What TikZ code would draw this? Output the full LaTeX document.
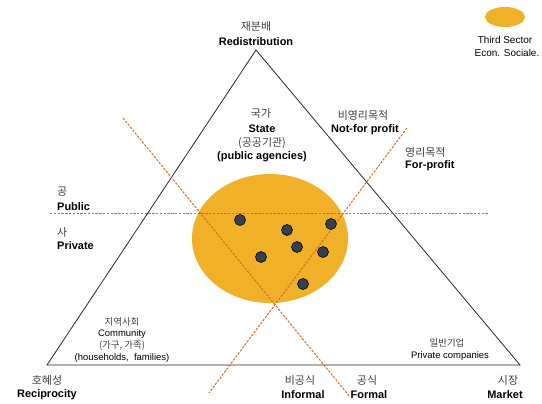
\documentclass[tikz,border=0pt]{standalone}
\usepackage{fontspec}
\setmainfont{Liberation Sans}
\newfontfamily\kr{Noto Sans CJK KR}
\usetikzlibrary{shapes, calc}
\definecolor{sectorfill}{RGB}{240,176,40}
\definecolor{cutline}{RGB}{215,105,30}
\definecolor{dotfill}{RGB}{52,66,72}
\tikzstyle{bold} = [font=\bfseries\fontsize{11}{13}\selectfont, inner sep=0pt]
\tikzstyle{plain} = [font=\fontsize{9.5}{11}\selectfont, inner sep=0pt]
\tikzstyle{krbig} = [font=\kr\fontsize{11}{13}\selectfont, text=black!75, inner sep=0pt]
\tikzstyle{krsmall} = [font=\kr\fontsize{9.5}{11}\selectfont, text=black!75, inner sep=0pt]
\tikzstyle{cut} = [cutline, line width=1pt, dash pattern=on 2.4pt off 1.4pt]
\tikzstyle{member} = [circle, draw=black, fill=dotfill, line width=0.6pt, minimum size=11bp, inner sep=0pt]

\begin{document}
\begin{tikzpicture}[x=1bp, y=-1bp]
    \useasboundingbox (0,0) rectangle (542,403);
    % triangle corners
    \coordinate (top) at (256,50);
    \coordinate (left) at (47,365);
    \coordinate (right) at (520,365);
    % ends of the dividing lines
    \coordinate (pubW) at (50,213.5);
    \coordinate (pubE) at (488,213.5);
    \coordinate (profN) at (123,118);
    \coordinate (profS) at (350,397);
    \coordinate (formN) at (407,128);
    \coordinate (formS) at (209,393);

    % third sector
    \node[ellipse, fill=sectorfill, minimum width=156bp, minimum height=129bp, inner sep=0pt] (sector) at (270,238.5) {};

    \draw[line width=0.8pt, black!85] (top) -- (left) -- (right) -- cycle;
    \draw[cut] (pubW) -- (pubE);
    \draw[cut] (profN) -- (profS);
    \draw[cut] (formN) -- (formS);

    % organisations
    \foreach \px/\py [count=\i] in {240/220, 287/230, 331/224, 297/247, 261/257, 323/252, 303/284}
        \node[member] (org\i) at (\px,\py) {};

    % legend
    \node[ellipse, fill=sectorfill, minimum width=40bp, minimum height=20bp, inner sep=0pt] (legend) at (505,17) {};
    \node[font=\fontsize{10}{12}\selectfont, inner sep=0pt] (legendA) at (505,40) {Third Sector};
    \node[font=\fontsize{10}{12}\selectfont, inner sep=0pt] (legendB) at (507,53) {Econ. Sociale.};

    % corners
    \node[krbig] (redistKr) at (256,26) {재분배};
    \node[bold] (redist) at (256,42) {Redistribution};
    \node[krbig] (reciKr) at (47,380) {호혜성};
    \node[bold] (reci) at (47,395) {Reciprocity};
    \node[krbig] (marketKr) at (508,380) {시장};
    \node[bold] (market) at (505,395) {Market};

    % sectors
    \node[krbig] (stateKr) at (261,113) {국가};
    \node[bold] (state) at (262,129) {State};
    \node[krbig] (agencyKr) at (262,143) {(공공기관)};
    \node[bold] (agency) at (262,157) {(public agencies)};
    \node[krsmall] (commKr) at (122,322) {지역사회};
    \node[plain] (comm) at (122,334) {Community};
    \node[krsmall] (houseKr) at (122,346) {(가구, 가족)};
    \node[plain] (house) at (122,358) {(households, \ families)};
    \node[krsmall] (compKr) at (447,343) {일반기업};
    \node[plain] (comp) at (450,356) {Private companies};

    % dividing lines
    \node[krbig] (npKr) at (363,115) {비영리목적};
    \node[bold] (np) at (365,130) {Not-for profit};
    \node[krbig, anchor=west] (fpKr) at (405,152) {영리목적};
    \node[bold, anchor=west] (fp) at (405,166) {For-profit};
    \node[krbig, anchor=west] (pubKr) at (57,192) {공};
    \node[bold, anchor=west] (pub) at (57,207) {Public};
    \node[krbig, anchor=west] (privKr) at (57,232) {사};
    \node[bold, anchor=west] (priv) at (57,246) {Private};
    \node[krbig] (informKr) at (300,380) {비공식};
    \node[bold] (inform) at (303,395) {Informal};
    \node[krbig] (formKr) at (367,380) {공식};
    \node[bold] (form) at (369,395) {Formal};
\end{tikzpicture}
\end{document}
